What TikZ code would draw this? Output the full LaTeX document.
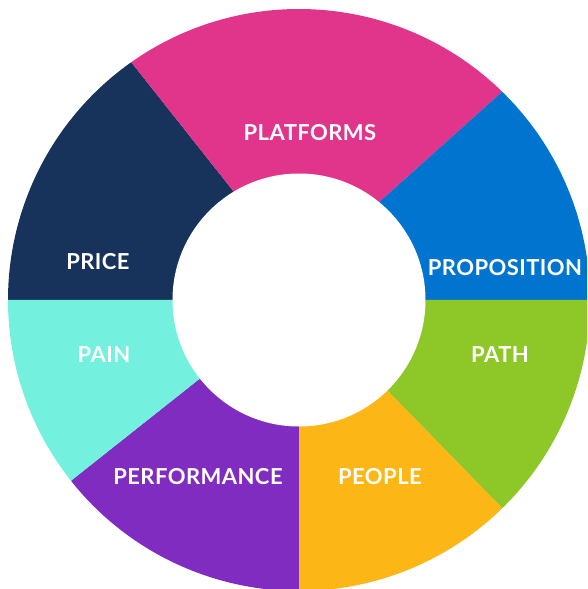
\documentclass[tikz,border=0pt]{standalone}
\usepackage{fontspec}
\setmainfont{Lato}

\definecolor{platforms}{RGB}{225,53,139}
\definecolor{proposition}{RGB}{0,116,207}
\definecolor{path}{RGB}{141,200,40}
\definecolor{people}{RGB}{252,182,22}
\definecolor{performance}{RGB}{129,44,193}
\definecolor{pain}{RGB}{115,240,222}
\definecolor{price}{RGB}{23,51,92}

\begin{document}
\begin{tikzpicture}[x=1pt,y=1pt]
\tikzset{seglabel/.style={text=white,inner sep=0pt,font=\fontsize{22}{26}\selectfont\bfseries\addfontfeatures{LetterSpace=2}}}

\useasboundingbox (-299,-289) rectangle (288,300);
\clip (-299,-289) rectangle (288,300);

\coordinate (o) at (0,0);
\coordinate (t) at (0,26);

% upper half, dividers meet a little above the centre
\fill [price] (o) -- (180:291) arc [start angle=180,end angle=125.2,radius=291] -- (t) -- cycle;
\fill [platforms] (t) -- (125.2:291) arc [start angle=125.2,end angle=45.7,radius=291] -- cycle;
\fill [proposition] (o) -- (0:291) arc [start angle=0,end angle=45.7,radius=291] -- (t) -- cycle;

% lower half
\fill [path] (o) -- (0:291) arc [start angle=0,end angle=-45.7,radius=291] -- cycle;
\fill [people] (o) -- (-45.7:291) arc [start angle=-45.7,end angle=-90,radius=291] -- cycle;
\fill [performance] (o) -- (-90:291) arc [start angle=-90,end angle=-141.6,radius=291] -- cycle;
\fill [pain] (o) -- (-141.6:291) arc [start angle=-141.6,end angle=-180,radius=291] -- cycle;

% hole
\fill [white] (o) circle [radius=126.5];

\node [seglabel] (platformslbl) at (11,167) {PLATFORMS};
\node [seglabel] (propositionlbl) at (206,32) {PROPOSITION};
\node [seglabel] (pathlbl) at (201,-55) {PATH};
\node [seglabel] (peoplelbl) at (81,-177) {PEOPLE};
\node [seglabel] (performancelbl) at (-101,-177) {PERFORMANCE};
\node [seglabel] (painlbl) at (-195,-55) {PAIN};
\node [seglabel] (pricelbl) at (-201,38) {PRICE};

\end{tikzpicture}
\end{document}
